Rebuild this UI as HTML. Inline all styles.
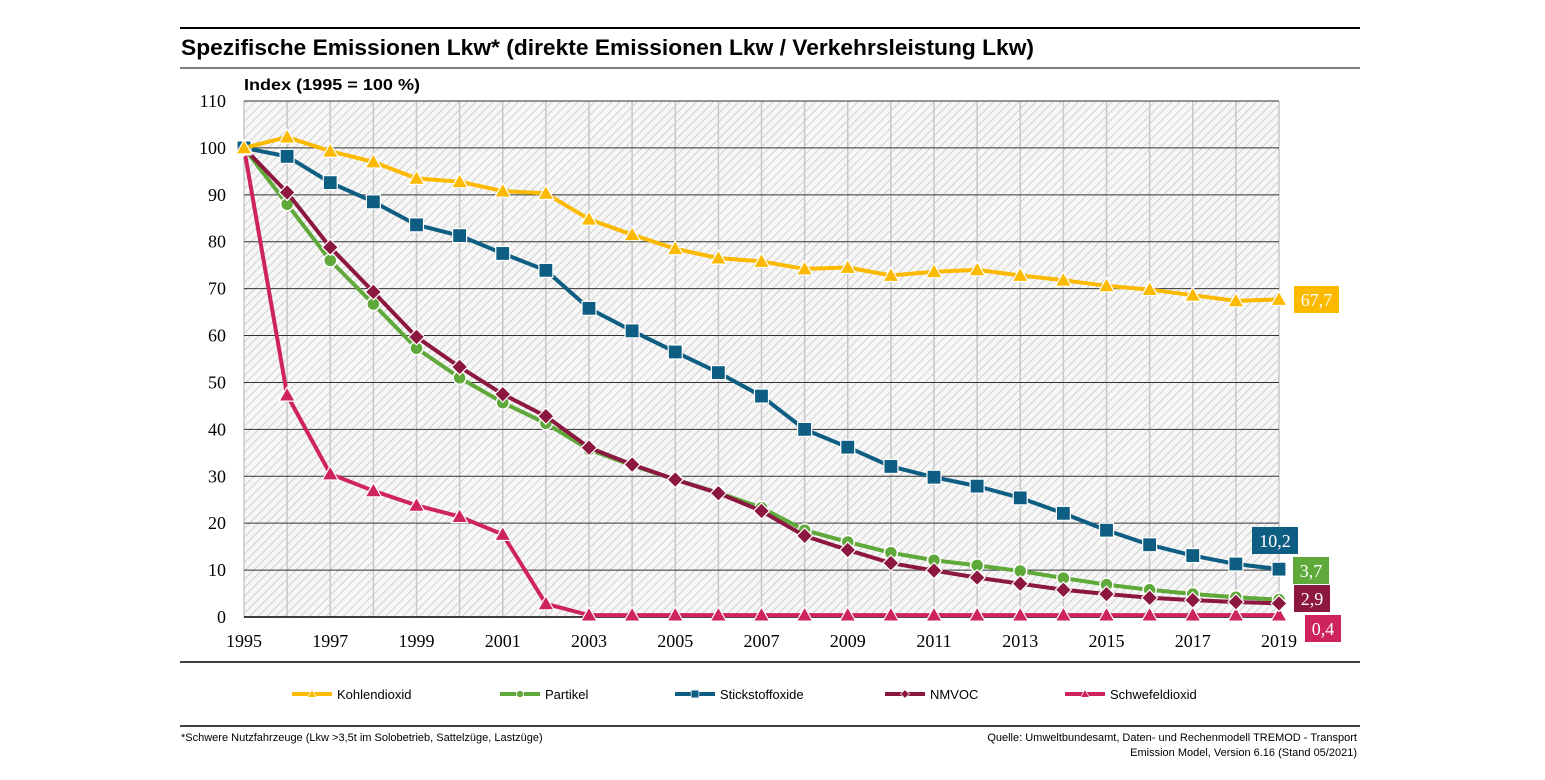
<!DOCTYPE html>
<html><head><meta charset="utf-8"><style>
body{margin:0;background:#fff;font-family:"Liberation Sans",sans-serif}
</style></head><body>
<svg width="1545" height="775" xmlns="http://www.w3.org/2000/svg" font-family="Liberation Sans, sans-serif">
<defs><pattern id="h" width="6" height="6" patternUnits="userSpaceOnUse" patternTransform="rotate(45)"><rect width="6" height="6" fill="#f7f7f7"/><line x1="0" y1="0" x2="0" y2="6" stroke="#cccccc" stroke-width="1.8"/></pattern></defs>
<line x1="180" y1="28" x2="1360" y2="28" stroke="#000" stroke-width="2"/>
<text x="181" y="55" font-size="22" font-weight="bold" textLength="853" lengthAdjust="spacingAndGlyphs">Spezifische Emissionen Lkw* (direkte Emissionen Lkw / Verkehrsleistung Lkw)</text>
<line x1="180" y1="68" x2="1360" y2="68" stroke="#000" stroke-width="1"/>
<text x="244" y="90" font-size="16" font-weight="bold" textLength="176" lengthAdjust="spacingAndGlyphs">Index (1995 = 100 %)</text>
<g id="plot"></g>
<line x1="180" y1="662" x2="1360" y2="662" stroke="#000" stroke-width="1.5"/>
<g id="legend"></g>
<line x1="180" y1="726" x2="1360" y2="726" stroke="#000" stroke-width="1.5"/>
<text x="181" y="741" font-size="11">*Schwere Nutzfahrzeuge (Lkw &gt;3,5t im Solobetrieb, Sattelzüge, Lastzüge)</text>
<text x="1357" y="741" font-size="11" text-anchor="end">Quelle: Umweltbundesamt, Daten- und Rechenmodell TREMOD - Transport</text>
<text x="1357" y="756" font-size="11" text-anchor="end">Emission Model, Version 6.16 (Stand 05/2021)</text>
</svg>
<script>
const years=[1995,1996,1997,1998,1999,2000,2001,2002,2003,2004,2005,2006,2007,2008,2009,2010,2011,2012,2013,2014,2015,2016,2017,2018,2019];
const yTicks=[0,10,20,30,40,50,60,70,80,90,100,110];
const xTickLabels=[1995,1997,1999,2001,2003,2005,2007,2009,2011,2013,2015,2017,2019];
const co2=[100,102.3,99.3,97,93.5,92.8,90.8,90.3,84.8,81.5,78.5,76.5,75.8,74.2,74.5,72.8,73.6,74,72.8,71.8,70.6,69.8,68.6,67.4,67.7];
const nox=[100,98.2,92.6,88.5,83.6,81.3,77.5,73.9,65.8,61,56.5,52.1,47.1,40,36.2,32.1,29.8,27.9,25.4,22.1,18.5,15.4,13.1,11.3,10.2];
const pm=[100,88,76,66.7,57.3,51,45.7,41.3,35.7,32.3,29.3,26.5,23.3,18.5,16,13.7,12.1,11,9.8,8.3,6.9,5.8,4.9,4.2,3.7];
const nmvoc=[100,90.5,78.8,69.3,59.7,53.3,47.5,42.8,36.1,32.5,29.3,26.4,22.6,17.3,14.3,11.5,9.9,8.4,7.1,5.8,4.9,4.1,3.6,3.2,2.9];
const so2=[100,47.3,30.5,26.9,23.8,21.4,17.6,2.8,0.4,0.4,0.4,0.4,0.4,0.4,0.4,0.4,0.4,0.4,0.4,0.4,0.4,0.4,0.4,0.4,0.4];
const seriesNames=["Kohlendioxid","Partikel","Stickstoffoxide","NMVOC","Schwefeldioxid"];
const endLabels=["67,7","3,7","10,2","2,9","0,4"];
const NS="http://www.w3.org/2000/svg";
const X0=244,X1=1279,Y0=617,Y1=101;
const xs=y=>X0+(y-1995)*(X1-X0)/24;
const ys=v=>Y0-v*(Y0-Y1)/110;
function mk(t,a,p){const e=document.createElementNS(NS,t);for(const k in a)e.setAttribute(k,a[k]);p.appendChild(e);return e;}
const plot=document.getElementById('plot');
let bg=mk('rect',{x:X0,y:Y1,width:X1-X0,height:Y0-Y1,fill:'url(#h)'},plot);


years.forEach(y=>{let l=mk('line',{x1:xs(y),x2:xs(y),y1:Y1,y2:Y0,stroke:'#c8c8c8','stroke-width':1.5},plot);

});
yTicks.forEach(v=>{let l=mk('line',{x1:X0,x2:X1,y1:ys(v),y2:ys(v),stroke:v==0?'#000':'#333','stroke-width':v==0?1.5:1},plot);


let t=mk('text',{x:226,y:ys(v)+6,'font-size':18,'text-anchor':'end','font-family':'Liberation Serif, serif'},plot);t.textContent=v;

});
xTickLabels.forEach(y=>{let t=mk('text',{x:xs(y),y:647,'font-size':18,'text-anchor':'middle','font-family':'Liberation Serif, serif'},plot);t.textContent=y;

});
function marker(g,type,x,y,c){
 if(type=='tri')return mk('path',{d:`M${x},${y-8}L${x+8},${y+6}L${x-8},${y+6}Z`,fill:c,stroke:'#fff','stroke-width':1.2},g);
 if(type=='sq')return mk('rect',{x:x-7,y:y-7,width:14,height:14,fill:c,stroke:'#fff','stroke-width':1.2},g);
 if(type=='dot')return mk('circle',{cx:x,cy:y,r:6.5,fill:c,stroke:'#fff','stroke-width':1.5},g);
 return mk('path',{d:`M${x},${y-8}L${x+8},${y}L${x},${y+8}L${x-8},${y}Z`,fill:c,stroke:'#fff','stroke-width':1.2},g);
}
const defs=[{d:so2,c:'#cf2360',m:'tri',n:'schwefeldioxid'},{d:pm,c:'#5fa93a',m:'dot',n:'partikel'},{d:nmvoc,c:'#8c1741',m:'dia',n:'nmvoc'},{d:nox,c:'#0e5e83',m:'sq',n:'stickstoffoxide'},{d:co2,c:'#fbb900',m:'tri',n:'kohlendioxid'}];
defs.forEach(s=>{const g=mk('g',{},plot);
 
 
 let l=mk('polyline',{points:s.d.map((v,i)=>xs(years[i])+','+ys(v)).join(' '),fill:'none',stroke:s.c,'stroke-width':4,'stroke-linejoin':'round'},g);
 
 
 s.d.forEach((v,i)=>{let m=marker(g,s.m,xs(years[i]),ys(v),s.c);
 
 });
});
const boxes=[[1294,286,45,27,'#fbb900',endLabels[0]],[1293,557,36,27,'#5fa93a',endLabels[1]],[1252,527,46,27,'#0e5e83',endLabels[2]],[1294,585,36,27,'#8c1741',endLabels[3]],[1305,615,36,27,'#cf2360',endLabels[4]]];
boxes.forEach(b=>{let r=mk('rect',{x:b[0],y:b[1],width:b[2],height:b[3],fill:b[4]},plot);
 
 
 let t=mk('text',{x:b[0]+b[2]/2,y:b[1]+20,'font-size':18,fill:'#fff','text-anchor':'middle','font-family':'Liberation Serif, serif'},plot);t.textContent=b[5];
 
 });
const lg=document.getElementById('legend');
const lx=[292,500,675,885,1065],lc=['#fbb900','#5fa93a','#0e5e83','#8c1741','#cf2360'],lm=['tri','dot','sq','dia','tri'];
seriesNames.forEach((n,i)=>{const g=mk('g',{},lg);
 
 
 mk('line',{x1:lx[i],x2:lx[i]+40,y1:694,y2:694,stroke:lc[i],'stroke-width':4},g);
 let m=marker(g,lm[i],lx[i]+20,694,lc[i]);m.setAttribute('transform',`translate(${lx[i]+20},694) scale(0.55) translate(${-lx[i]-20},-694)`);
 let t=mk('text',{x:lx[i]+45,y:699,'font-size':13},g);t.textContent=n;});
</script>
</body></html>
